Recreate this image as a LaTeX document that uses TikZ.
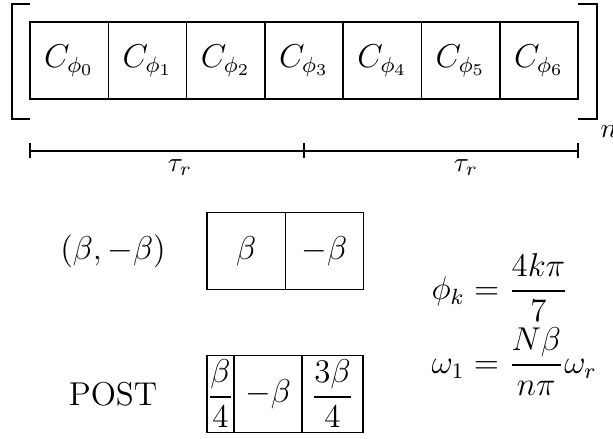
\documentclass[tikz,border=0pt]{standalone}
\usepackage{amsmath}
\begin{document}
\begin{tikzpicture}[x=0.012771cm, y=-0.012771cm,
  cell/.style={draw, line width=0.55pt, rectangle, inner sep=0pt, outer sep=0pt,
    minimum width=78.3*0.012771cm, minimum height=77*0.012771cm, font=\large},
  pcell/.style={draw, line width=0.55pt, rectangle, inner sep=0pt, outer sep=0pt,
    minimum height=77*0.012771cm, font=\large},
  brk/.style={line width=0.6pt},
  axis/.style={line width=0.55pt},
  lbl/.style={inner sep=1pt, font=\large},
  eqn/.style={anchor=west, inner sep=0pt, font=\large}]
\useasboundingbox (0,0) rectangle (613,439);
% top row of cells
\foreach \i in {0,...,6}{
  \node[cell] (c\i) at ({69.15+78.3*\i},60.5) {$C_{\phi_{\i}}$};
}
% brackets
\coordinate (bl1) at (30,4); \coordinate (bl2) at (12,4);
\coordinate (bl3) at (12,119); \coordinate (bl4) at (30,119);
\draw[brk] (bl1) -- (bl2) -- (bl3) -- (bl4);
\coordinate (br1) at (578,4); \coordinate (br2) at (597,4);
\coordinate (br3) at (597,119); \coordinate (br4) at (578,119);
\draw[brk] (br1) -- (br2) -- (br3) -- (br4);
\node[anchor=west, inner sep=0pt] (nexp) at (600,132) {$n$};
% time axis
\coordinate (t0) at (30,151); \coordinate (t1) at (304,151); \coordinate (t2) at (578,151);
\draw[axis] (t0) -- (t2);
\foreach \t in {t0,t1,t2}{ \draw[axis] ([yshift=-7.5*0.012771cm]\t) -- ([yshift=7.5*0.012771cm]\t); }
\node (tau1) at (180,168) {$\tau_r$};
\node (tau2) at (466,168) {$\tau_r$};
% (beta,-beta) block
\node[lbl] (lab1) at (113,251) {$(\beta,-\beta)$};
\node[cell] (b1) at (246.15,251) {$\beta$};
\node[cell] (b2) at (324.45,251) {$-\beta$};
% POST block
\node[lbl] (lab2) at (113,394) {POST};
\node[pcell, minimum width=27*0.012771cm] (p1) at (220.5,394) {$\dfrac{\beta}{4}$};
\node[pcell, minimum width=68*0.012771cm] (p2) at (268,394) {$-\beta$};
\node[pcell, minimum width=61*0.012771cm] (p3) at (332.5,394) {$\dfrac{3\beta}{4}$};
% equations
\node[eqn] (eq1) at (431,288) {$\phi_k = \dfrac{4k\pi}{7}$};
\node[eqn] (eq2) at (431,362) {$\omega_1 = \dfrac{N\beta}{n\pi}\omega_r$};
\end{tikzpicture}
\end{document}
